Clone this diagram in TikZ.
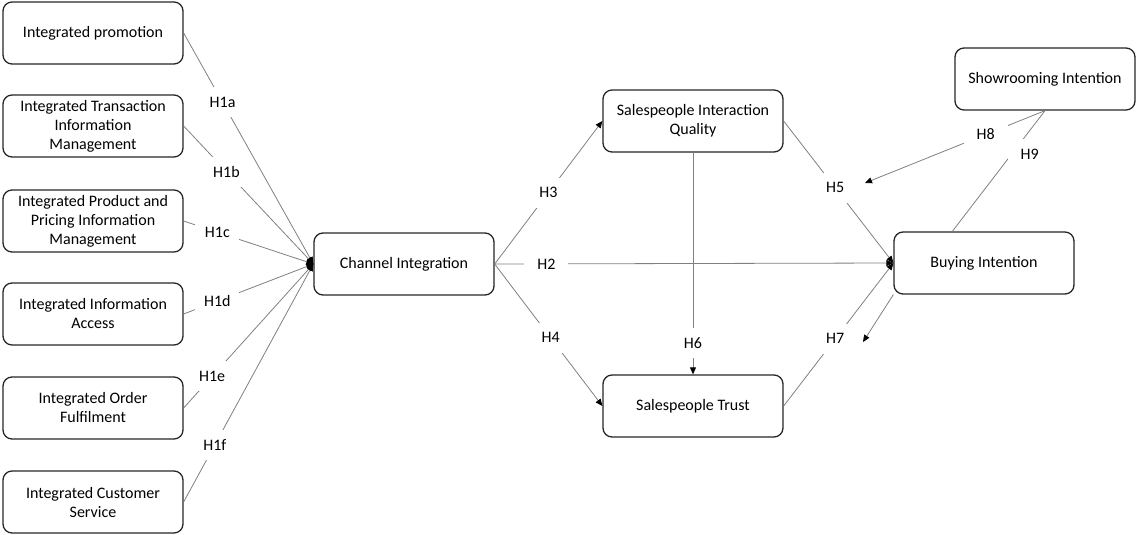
\documentclass[tikz,border=0pt]{standalone}
\usepackage{fontspec}
\setmainfont{Carlito}
\usetikzlibrary{arrows.meta}
\definecolor{boxedge}{HTML}{262626}
\definecolor{pathgray}{HTML}{808080}

\begin{document}
\begin{tikzpicture}[x=1pt, y=-1pt,
  construct/.style={draw=boxedge, line width=1.3pt, rounded corners=9pt,
    minimum width=180pt, minimum height=62pt, align=center, inner sep=2pt,
    font=\fontsize{16}{19}\selectfont},
  hyp/.style={fill=white, inner sep=2pt, minimum width=44pt, minimum height=30pt,
    font=\fontsize{16}{19}\selectfont},
  link/.style={draw=pathgray, line width=0.8pt,
    -{Triangle[length=7pt, width=6pt, black]}},
  plainlink/.style={draw=pathgray, line width=0.8pt}]
\useasboundingbox (0,0) rectangle (1136,535);
% Channel integration dimensions
\node[construct] (ip) at (93,33) {Integrated promotion};
\node[construct] (itim) at (93,126) {Integrated Transaction\\Information\\Management};
\node[construct] (ippim) at (93,221) {Integrated Product and\\Pricing Information\\Management};
\node[construct] (iia) at (93,314) {Integrated Information\\Access};
\node[construct] (iof) at (93,408) {Integrated Order\\Fulfilment};
\node[construct] (ics) at (93,502) {Integrated Customer\\Service};
% Main constructs
\node[construct] (ci) at (404,264) {Channel Integration};
\node[construct] (siq) at (693,121) {Salespeople Interaction\\Quality};
\node[construct] (st) at (693,406) {Salespeople Trust};
\node[construct] (bi) at (984,263) {Buying Intention};
\node[construct] (si) at (1045,79) {Showrooming Intention};
\coordinate (h8end) at (865,183);
\coordinate (h7end) at (863,342);
% H1a--H1f
\draw[link] (ip.east) -- node[hyp, pos=0.30] {H1a} (ci.west);
\draw[link] (itim.east) -- node[hyp, pos=0.33] {H1b} (ci.west);
\draw[link] (ippim.east) -- node[hyp, pos=0.26] {H1c} (ci.west);
\draw[link] (iia.east) -- node[hyp, pos=0.26] {H1d} (ci.west);
\draw[link] (iof.east) -- node[hyp, pos=0.22] {H1e} (ci.west);
\draw[link] (ics.east) -- node[hyp, pos=0.24] {H1f} (ci.west);
% H2--H7
\draw[link] (ci.east) -- node[hyp, pos=0.13] {H2} (bi.west);
\draw[link] (ci.east) -- node[hyp, pos=0.5] {H3} (siq.west);
\draw[link] (ci.east) -- node[hyp, pos=0.52] {H4} (st.west);
\draw[link] (siq.east) -- node[hyp, pos=0.47] {H5} (bi.west);
\draw[link] (siq.south) -- node[hyp, pos=0.86] {H6} (st.north);
\draw[link] (st.east) -- node[hyp, pos=0.47] {H7} (bi.west);
\draw[link] (bi.south west) -- (h7end);
% Moderation of showrooming
\draw[link] (si.south) -- node[hyp, pos=0.33] {H8} (h8end);
\draw[plainlink] (bi.135) -- node[hyp, pos=0.64, xshift=18pt] {H9} (si.south);
\end{tikzpicture}
\end{document}
